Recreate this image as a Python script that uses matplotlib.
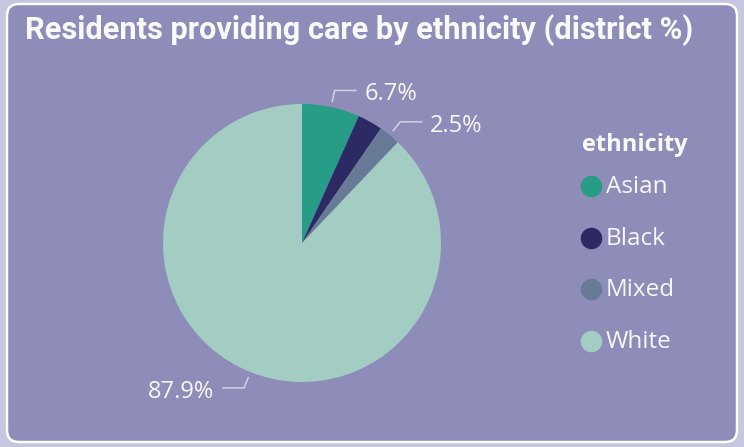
import matplotlib
matplotlib.use("Agg")
import matplotlib.pyplot as plt
from matplotlib.patches import FancyBboxPatch
from matplotlib import font_manager
import numpy as np

# Data
categories = ["Asian", "Black", "Mixed", "White"]
shares = [6.7, 2.9, 2.5, 87.9]
show_label = [True, False, True, True]
colors = ["#279C86", "#2D2A63", "#687B96", "#A3CCC3"]
title = "Residents providing care by ethnicity (district %)"
legend_title = "ethnicity"

W, H = 744, 447
fig = plt.figure(figsize=(W / 100, H / 100), dpi=100)
fig.patch.set_facecolor("#C6C6DE")
ax = fig.add_axes([0, 0, 1, 1])
ax.set_xlim(0, W)
ax.set_ylim(0, H)
ax.set_aspect("equal")
ax.axis("off")

# Card
card = FancyBboxPatch((7, 5), W - 14, H - 9,
                      boxstyle="round,pad=0,rounding_size=12",
                      facecolor="#8E8CB8", edgecolor="white", linewidth=1.8,
                      zorder=0)
ax.add_patch(card)

available = {f.name for f in font_manager.fontManager.ttflist}
title_font = next((f for f in ["Liberation Sans Narrow", "DejaVu Sans Condensed",
                               "Roboto", "DejaVu Sans"] if f in available), "DejaVu Sans")
label_font = "Open Sans" if "Open Sans" in available else "DejaVu Sans"

# Title, fitted to its width
t = ax.text(25, H - 30, title, color="#FAFAFA", fontsize=18, fontweight="semibold",
            family=title_font, ha="left", va="center")
fig.canvas.draw()
bb = t.get_window_extent()
t.set_fontsize(18 * 670 / bb.width)

# Pie
cx, cy, r = 302, H - 243, 139
wedges, _ = ax.pie(shares, colors=colors, startangle=90, counterclock=False,
                   center=(cx, cy), radius=r, frame=True,
                   wedgeprops=dict(linewidth=0))
ax.set_xlim(0, W)
ax.set_ylim(0, H)
ax.axis("off")

# Leader lines and value labels
line_col = "#D2D2E2"
for w, val, show in zip(wedges, shares, show_label):
    if not show:
        continue
    mid = np.deg2rad((w.theta1 + w.theta2) / 2)
    c, s = np.cos(mid), np.sin(mid)
    x0, y0 = cx + (r + 5) * c, cy + (r + 5) * s
    x1, y1 = cx + (r + 17) * c, cy + (r + 17) * s
    sign = 1 if c >= 0 else -1
    x2 = x1 + sign * 22
    ax.plot([x0, x1, x2], [y0, y1, y1], color=line_col, lw=1.1,
            solid_capstyle="butt", zorder=3)
    ax.text(x2 + sign * 8, y1 - 4, f"{val}%", color="#F8F8F8",
            fontsize=17, family=label_font,
            ha="left" if sign > 0 else "right", va="center", zorder=4)

# Legend
ax.text(582, H - 145, legend_title, color="#FAFAFA", fontsize=17,
        fontweight="bold", family=label_font, ha="left", va="center")
leg_y = [186, 238, 289, 341]
for name, col, yy in zip(categories, colors, leg_y):
    ax.scatter([591], [H - yy], s=15.5 ** 2, color=col, zorder=4, linewidths=0)
    ax.text(606, H - yy - 1, name, color="#F8F8F8", fontsize=17.5,
            family=label_font, ha="left", va="center")

fig.savefig("out.png", dpi=100, facecolor=fig.get_facecolor())
